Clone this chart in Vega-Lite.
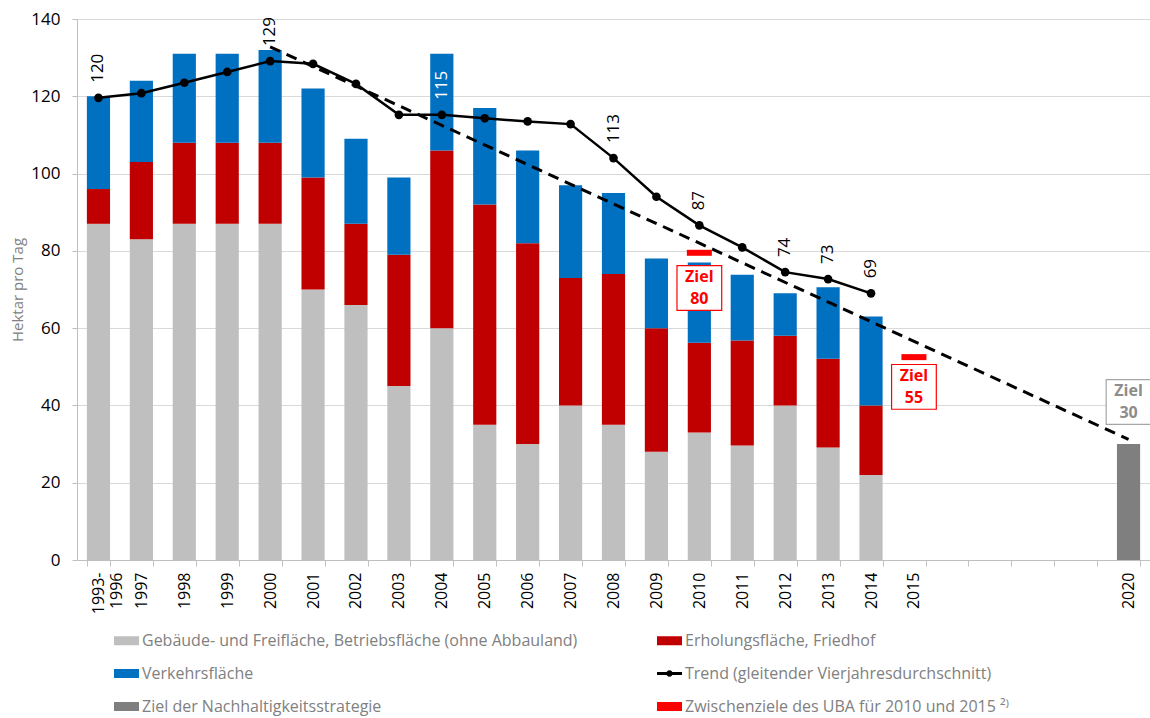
{
  "$schema": "https://vega.github.io/schema/vega-lite/v6.json",
  "width": 1073,
  "height": 541,
  "autosize": {"type": "none"},
  "padding": {"left": 77, "top": 19, "right": 0, "bottom": 158},
  "background": "white",
  "config": {
    "font": "Open Sans",
    "view": {"stroke": null}
  },
  "datasets": {
    "bars": [
      {"year": "1993-1996", "cat": "Gebäude- und Freifläche, Betriebsfläche (ohne Abbauland)", "lo": 0, "hi": 87},
      {"year": "1993-1996", "cat": "Erholungsfläche, Friedhof", "lo": 87, "hi": 96},
      {"year": "1993-1996", "cat": "Verkehrsfläche", "lo": 96, "hi": 120},
      {"year": "1997", "cat": "Gebäude- und Freifläche, Betriebsfläche (ohne Abbauland)", "lo": 0, "hi": 83},
      {"year": "1997", "cat": "Erholungsfläche, Friedhof", "lo": 83, "hi": 103},
      {"year": "1997", "cat": "Verkehrsfläche", "lo": 103, "hi": 124},
      {"year": "1998", "cat": "Gebäude- und Freifläche, Betriebsfläche (ohne Abbauland)", "lo": 0, "hi": 87},
      {"year": "1998", "cat": "Erholungsfläche, Friedhof", "lo": 87, "hi": 108},
      {"year": "1998", "cat": "Verkehrsfläche", "lo": 108, "hi": 131},
      {"year": "1999", "cat": "Gebäude- und Freifläche, Betriebsfläche (ohne Abbauland)", "lo": 0, "hi": 87},
      {"year": "1999", "cat": "Erholungsfläche, Friedhof", "lo": 87, "hi": 108},
      {"year": "1999", "cat": "Verkehrsfläche", "lo": 108, "hi": 131},
      {"year": "2000", "cat": "Gebäude- und Freifläche, Betriebsfläche (ohne Abbauland)", "lo": 0, "hi": 87},
      {"year": "2000", "cat": "Erholungsfläche, Friedhof", "lo": 87, "hi": 108},
      {"year": "2000", "cat": "Verkehrsfläche", "lo": 108, "hi": 132},
      {"year": "2001", "cat": "Gebäude- und Freifläche, Betriebsfläche (ohne Abbauland)", "lo": 0, "hi": 70},
      {"year": "2001", "cat": "Erholungsfläche, Friedhof", "lo": 70, "hi": 99},
      {"year": "2001", "cat": "Verkehrsfläche", "lo": 99, "hi": 122},
      {"year": "2002", "cat": "Gebäude- und Freifläche, Betriebsfläche (ohne Abbauland)", "lo": 0, "hi": 66},
      {"year": "2002", "cat": "Erholungsfläche, Friedhof", "lo": 66, "hi": 87},
      {"year": "2002", "cat": "Verkehrsfläche", "lo": 87, "hi": 109},
      {"year": "2003", "cat": "Gebäude- und Freifläche, Betriebsfläche (ohne Abbauland)", "lo": 0, "hi": 45},
      {"year": "2003", "cat": "Erholungsfläche, Friedhof", "lo": 45, "hi": 79},
      {"year": "2003", "cat": "Verkehrsfläche", "lo": 79, "hi": 99},
      {"year": "2004", "cat": "Gebäude- und Freifläche, Betriebsfläche (ohne Abbauland)", "lo": 0, "hi": 60},
      {"year": "2004", "cat": "Erholungsfläche, Friedhof", "lo": 60, "hi": 106},
      {"year": "2004", "cat": "Verkehrsfläche", "lo": 106, "hi": 131},
      {"year": "2005", "cat": "Gebäude- und Freifläche, Betriebsfläche (ohne Abbauland)", "lo": 0, "hi": 35},
      {"year": "2005", "cat": "Erholungsfläche, Friedhof", "lo": 35, "hi": 92},
      {"year": "2005", "cat": "Verkehrsfläche", "lo": 92, "hi": 117},
      {"year": "2006", "cat": "Gebäude- und Freifläche, Betriebsfläche (ohne Abbauland)", "lo": 0, "hi": 30},
      {"year": "2006", "cat": "Erholungsfläche, Friedhof", "lo": 30, "hi": 82},
      {"year": "2006", "cat": "Verkehrsfläche", "lo": 82, "hi": 106},
      {"year": "2007", "cat": "Gebäude- und Freifläche, Betriebsfläche (ohne Abbauland)", "lo": 0, "hi": 40},
      {"year": "2007", "cat": "Erholungsfläche, Friedhof", "lo": 40, "hi": 73},
      {"year": "2007", "cat": "Verkehrsfläche", "lo": 73, "hi": 97},
      {"year": "2008", "cat": "Gebäude- und Freifläche, Betriebsfläche (ohne Abbauland)", "lo": 0, "hi": 35},
      {"year": "2008", "cat": "Erholungsfläche, Friedhof", "lo": 35, "hi": 74},
      {"year": "2008", "cat": "Verkehrsfläche", "lo": 74, "hi": 95},
      {"year": "2009", "cat": "Gebäude- und Freifläche, Betriebsfläche (ohne Abbauland)", "lo": 0, "hi": 28},
      {"year": "2009", "cat": "Erholungsfläche, Friedhof", "lo": 28, "hi": 60},
      {"year": "2009", "cat": "Verkehrsfläche", "lo": 60, "hi": 78},
      {"year": "2010", "cat": "Gebäude- und Freifläche, Betriebsfläche (ohne Abbauland)", "lo": 0, "hi": 33},
      {"year": "2010", "cat": "Erholungsfläche, Friedhof", "lo": 33, "hi": 56.2},
      {"year": "2010", "cat": "Verkehrsfläche", "lo": 56.2, "hi": 77},
      {"year": "2011", "cat": "Gebäude- und Freifläche, Betriebsfläche (ohne Abbauland)", "lo": 0, "hi": 29.6},
      {"year": "2011", "cat": "Erholungsfläche, Friedhof", "lo": 29.6, "hi": 56.8},
      {"year": "2011", "cat": "Verkehrsfläche", "lo": 56.8, "hi": 73.8},
      {"year": "2012", "cat": "Gebäude- und Freifläche, Betriebsfläche (ohne Abbauland)", "lo": 0, "hi": 40},
      {"year": "2012", "cat": "Erholungsfläche, Friedhof", "lo": 40, "hi": 58},
      {"year": "2012", "cat": "Verkehrsfläche", "lo": 58, "hi": 69},
      {"year": "2013", "cat": "Gebäude- und Freifläche, Betriebsfläche (ohne Abbauland)", "lo": 0, "hi": 29.1},
      {"year": "2013", "cat": "Erholungsfläche, Friedhof", "lo": 29.1, "hi": 52.1},
      {"year": "2013", "cat": "Verkehrsfläche", "lo": 52.1, "hi": 70.6},
      {"year": "2014", "cat": "Gebäude- und Freifläche, Betriebsfläche (ohne Abbauland)", "lo": 0, "hi": 22},
      {"year": "2014", "cat": "Erholungsfläche, Friedhof", "lo": 22, "hi": 40},
      {"year": "2014", "cat": "Verkehrsfläche", "lo": 40, "hi": 63},
      {"year": "2020", "cat": "Ziel der Nachhaltigkeitsstrategie", "lo": 0, "hi": 30}
    ],
    "trend": [
      {"year": "1993-1996", "cat": "Trend (gleitender Vierjahresdurchschnitt)", "v": 119.6, "label": "120"},
      {"year": "1997", "cat": "Trend (gleitender Vierjahresdurchschnitt)", "v": 120.8, "label": null},
      {"year": "1998", "cat": "Trend (gleitender Vierjahresdurchschnitt)", "v": 123.5, "label": null},
      {"year": "1999", "cat": "Trend (gleitender Vierjahresdurchschnitt)", "v": 126.3, "label": null},
      {"year": "2000", "cat": "Trend (gleitender Vierjahresdurchschnitt)", "v": 129.1, "label": "129"},
      {"year": "2001", "cat": "Trend (gleitender Vierjahresdurchschnitt)", "v": 128.4, "label": null},
      {"year": "2002", "cat": "Trend (gleitender Vierjahresdurchschnitt)", "v": 123.2, "label": null},
      {"year": "2003", "cat": "Trend (gleitender Vierjahresdurchschnitt)", "v": 115.2, "label": null},
      {"year": "2004", "cat": "Trend (gleitender Vierjahresdurchschnitt)", "v": 115.2, "label": "115"},
      {"year": "2005", "cat": "Trend (gleitender Vierjahresdurchschnitt)", "v": 114.3, "label": null},
      {"year": "2006", "cat": "Trend (gleitender Vierjahresdurchschnitt)", "v": 113.5, "label": null},
      {"year": "2007", "cat": "Trend (gleitender Vierjahresdurchschnitt)", "v": 112.8, "label": null},
      {"year": "2008", "cat": "Trend (gleitender Vierjahresdurchschnitt)", "v": 104.0, "label": "113"},
      {"year": "2009", "cat": "Trend (gleitender Vierjahresdurchschnitt)", "v": 94.0, "label": null},
      {"year": "2010", "cat": "Trend (gleitender Vierjahresdurchschnitt)", "v": 86.6, "label": "87"},
      {"year": "2011", "cat": "Trend (gleitender Vierjahresdurchschnitt)", "v": 80.9, "label": null},
      {"year": "2012", "cat": "Trend (gleitender Vierjahresdurchschnitt)", "v": 74.5, "label": "74"},
      {"year": "2013", "cat": "Trend (gleitender Vierjahresdurchschnitt)", "v": 72.7, "label": "73"},
      {"year": "2014", "cat": "Trend (gleitender Vierjahresdurchschnitt)", "v": 69.0, "label": "69"}
    ],
    "linear": [
      {"year": "2000", "v": 132.8},
      {"year": "2020", "v": 31.2}
    ],
    "targets": [
      {"year": "2010", "cat": "Zwischenziele des UBA für 2010 und 2015 ²⁾", "v": 79.5},
      {"year": "2015", "cat": "Zwischenziele des UBA für 2010 und 2015 ²⁾", "v": 52.5}
    ],
    "boxes": [
      {"year": "2010", "kind": "uba", "pos": 70.4, "label": "Ziel\n80"},
      {"year": "2015", "kind": "uba", "pos": 44.8, "label": "Ziel\n55"},
      {"year": "2020", "kind": "nh", "pos": 40.9, "label": "Ziel\n30"}
    ]
  },
  "encoding": {
    "x": {
      "field": "year",
      "type": "nominal",
      "scale": {
        "domain": ["1993-1996", "1997", "1998", "1999", "2000", "2001", "2002", "2003", "2004", "2005", "2006", "2007", "2008", "2009", "2010", "2011", "2012", "2013", "2014", "2015", "2016", "2017", "2018", "2019", "2020"],
        "paddingInner": 0.46,
        "paddingOuter": 0.23
      },
      "axis": {
        "title": null,
        "grid": false,
        "domainColor": "#bfbfbf",
        "tickColor": "#bfbfbf",
        "tickSize": 6,
        "tickBand": "extent",
        "labelAngle": 270,
        "labelAlign": "right",
        "labelBaseline": "middle",
        "labelFontSize": 16,
        "labelColor": "#000000",
        "labelPadding": 6,
        "labelExpr": "indexof(['2016','2017','2018','2019'], datum.value) >= 0 ? '' : (datum.value == '1993-1996' ? ['1993-', '1996'] : datum.value)"
      }
    }
  },
  "layer": [
    {
      "data": {"name": "bars"},
      "mark": {"type": "bar"},
      "encoding": {
        "y": {
          "field": "lo",
          "type": "quantitative",
          "scale": {"domain": [0, 140], "nice": false},
          "axis": {
            "values": [0, 20, 40, 60, 80, 100, 120, 140],
            "title": "Hektar pro Tag",
            "titleColor": "#808080",
            "titleFontSize": 15,
            "titleFontWeight": "normal",
            "titlePadding": 5,
            "grid": true,
            "gridColor": "#d9d9d9",
            "domainColor": "#bfbfbf",
            "tickColor": "#bfbfbf",
            "tickSize": 5,
            "labelFontSize": 17,
            "labelColor": "#000000",
            "labelPadding": 12
          }
        },
        "y2": {"field": "hi"},
        "color": {
          "field": "cat",
          "type": "nominal",
          "scale": {
            "domain": [
              "Gebäude- und Freifläche, Betriebsfläche (ohne Abbauland)",
              "Erholungsfläche, Friedhof",
              "Verkehrsfläche",
              "Trend (gleitender Vierjahresdurchschnitt)",
              "Ziel der Nachhaltigkeitsstrategie",
              "Zwischenziele des UBA für 2010 und 2015 ²⁾"
            ],
            "range": ["#bfbfbf", "#c00000", "#0070c0", "#000000", "#7f7f7f", "#ff0000"]
          },
          "legend": {
            "title": null,
            "orient": "none",
            "legendX": 37,
            "legendY": 609,
            "columns": 2,
            "direction": "horizontal",
            "columnPadding": 79,
            "rowPadding": 12,
            "padding": 0,
            "symbolSize": 625,
            "symbolType": "square",
            "labelFontSize": 16,
            "labelColor": "#808080",
            "labelOffset": 3,
            "labelLimit": 600,
            "encode": {
              "symbols": {
                "update": {
                  "shape": {"signal": "datum.value === 'Trend (gleitender Vierjahresdurchschnitt)' ? 'M-1,-0.12H-0.2V0.12H-1Z M0.2,-0.12H1V0.12H0.2Z M-0.26,0A0.26,0.26 0 1,1 0.26,0A0.26,0.26 0 1,1 -0.26,0Z' : 'M-1,-0.36H1V0.36H-1Z'"},
                  "fill": {"scale": "color", "field": "value"},
                  "fillOpacity": {"value": 1},
                  "stroke": {"value": "transparent"},
                  "strokeWidth": {"value": 0},
                  "strokeDash": {"value": []},
                  "opacity": {"value": 1}
                }
              }
            }
          }
        }
      }
    },
    {
      "data": {"name": "linear"},
      "mark": {"type": "line", "color": "#000000", "strokeWidth": 3, "strokeDash": [11, 7]},
      "encoding": {
        "y": {"field": "v", "type": "quantitative"}
      }
    },
    {
      "data": {"name": "trend"},
      "mark": {"type": "line", "strokeWidth": 2.5, "point": {"filled": true, "size": 75, "opacity": 1}},
      "encoding": {
        "y": {"field": "v", "type": "quantitative"},
        "color": {"field": "cat", "type": "nominal"}
      }
    },
    {
      "data": {"name": "trend"},
      "transform": [{"filter": "datum.label != null"}],
      "mark": {"type": "text", "angle": 270, "align": "left", "baseline": "middle", "dx": 15, "fontSize": 17},
      "encoding": {
        "y": {"field": "v", "type": "quantitative"},
        "text": {"field": "label"},
        "color": {"condition": {"test": "datum.year == '2004'", "value": "#ffffff"}, "value": "#000000"}
      }
    },
    {
      "data": {"name": "targets"},
      "mark": {"type": "tick", "orient": "horizontal", "size": 25, "thickness": 6, "opacity": 1},
      "encoding": {
        "y": {"field": "v", "type": "quantitative"},
        "color": {"field": "cat", "type": "nominal"}
      }
    },
    {
      "data": {"name": "boxes"},
      "mark": {"type": "point", "shape": "square", "size": 2000, "filled": false, "fill": "#ffffff", "fillOpacity": 1, "strokeWidth": 1.2, "opacity": 1},
      "encoding": {
        "y": {"field": "pos", "type": "quantitative"},
        "stroke": {"condition": {"test": "datum.kind == 'uba'", "value": "#ff0000"}, "value": "#a6a6a6"}
      }
    },
    {
      "data": {"name": "boxes"},
      "mark": {"type": "text", "lineBreak": "\n", "align": "center", "baseline": "middle", "dy": -11, "fontSize": 16, "fontWeight": "bold", "lineHeight": 22},
      "encoding": {
        "y": {"field": "pos", "type": "quantitative"},
        "text": {"field": "label"},
        "color": {"condition": {"test": "datum.kind == 'uba'", "value": "#ff0000"}, "value": "#8c8c8c"}
      }
    }
  ]
}
